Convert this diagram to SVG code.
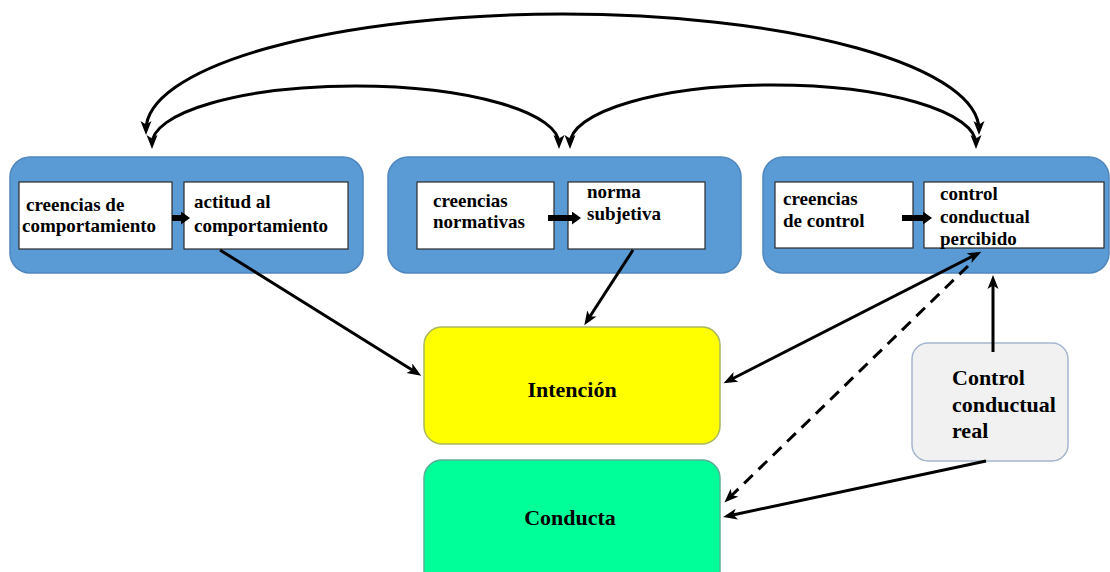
<svg xmlns="http://www.w3.org/2000/svg" width="1110" height="572" viewBox="0 0 1110 572">
<style>
.grp{fill:#5B9BD5;stroke:#4F86BE;stroke-width:1.5}
.wb{fill:#FFFFFF;stroke:#2B2B2B;stroke-width:1.2}
.t{font-family:"Liberation Serif","Times New Roman",serif;font-weight:bold;font-size:19px;fill:#000}
.tb{font-family:"Liberation Serif","Times New Roman",serif;font-weight:bold;font-size:22px;fill:#000}
.arc{fill:none;stroke:#000;stroke-width:3}
.ln{fill:none;stroke:#000;stroke-width:3}
.thick{fill:none;stroke:#000;stroke-width:6}
</style>
<defs>
<marker id="ah" markerUnits="userSpaceOnUse" markerWidth="16" markerHeight="12" refX="9" refY="5.5" orient="auto-start-reverse" viewBox="0 0 16 11">
<path d="M0,0 L14,5.5 L0,11 L3.5,5.5 z" fill="#000"/>
</marker>
<marker id="th" markerUnits="userSpaceOnUse" markerWidth="10" markerHeight="13" refX="2" refY="6.5" orient="auto" viewBox="0 0 10 13">
<path d="M0,0 L9,6.5 L0,13 z" fill="#000"/>
</marker>
</defs>
<rect width="1110" height="572" fill="#FFFFFF"/>

<g id="grupo-actitud">
<rect class="grp" x="10" y="157" width="353" height="116" rx="20"/>
<rect class="wb" x="19" y="182" width="153" height="67"/>
<rect class="wb" x="184" y="182" width="164" height="67"/>
<text class="t" x="26" y="211">creencias de</text>
<text class="t" x="22" y="232">comportamiento</text>
<text class="t" x="194" y="208">actitud al</text>
<text class="t" x="194" y="232">comportamiento</text>
<path class="thick" d="M172,218 H183" marker-end="url(#th)"/>
</g>

<g id="grupo-norma">
<rect class="grp" x="388" y="157" width="353" height="116" rx="20"/>
<rect class="wb" x="417" y="182" width="137" height="67"/>
<rect class="wb" x="568" y="182" width="137" height="67"/>
<text class="t" x="433" y="207">creencias</text>
<text class="t" x="433" y="228">normativas</text>
<text class="t" x="587" y="198">norma</text>
<text class="t" x="587" y="220">subjetiva</text>
<path class="thick" d="M548,218 H574" marker-end="url(#th)"/>
</g>

<g id="grupo-control">
<rect class="grp" x="763" y="157" width="346" height="116" rx="20"/>
<rect class="wb" x="775" y="182" width="138" height="66"/>
<rect class="wb" x="924" y="182" width="180" height="66"/>
<text class="t" x="783" y="205">creencias</text>
<text class="t" x="783" y="227">de control</text>
<text class="t" x="940" y="200">control</text>
<text class="t" x="940" y="223">conductual</text>
<text class="t" x="940" y="245">percibido</text>
<path class="thick" d="M902,218 H925" marker-end="url(#th)"/>
</g>

<g id="intencion">
<rect x="424" y="327" width="296" height="117" rx="18" fill="#FFFF00" stroke="#A9B860" stroke-width="1.5"/>
<text class="tb" x="572" y="397" text-anchor="middle">Intención</text>
</g>

<g id="conducta">
<rect x="424" y="460" width="296" height="130" rx="18" fill="#00FF99" stroke="#5DAF96" stroke-width="1.5"/>
<text class="tb" x="570" y="525" text-anchor="middle">Conducta</text>
</g>

<g id="control-real">
<rect x="912" y="343" width="156" height="118" rx="16" fill="#F1F1F1" stroke="#A4B6CE" stroke-width="1.5"/>
<text class="tb" x="952" y="385">Control</text>
<text class="tb" x="952" y="412">conductual</text>
<text class="tb" x="952" y="438">real</text>
</g>

<g id="conectores">
<path class="arc" d="M146,130 A416.5,116 0 0 1 979,130" marker-start="url(#ah)" marker-end="url(#ah)"/>
<path class="arc" d="M152,144 A203.5,58 0 0 1 559,144" marker-start="url(#ah)" marker-end="url(#ah)"/>
<path class="arc" d="M570,144 A203,59 0 0 1 976,144" marker-start="url(#ah)" marker-end="url(#ah)"/>
<path class="ln" d="M220,250 L417,373" marker-end="url(#ah)"/>
<path class="ln" d="M633,250 L587,321" marker-end="url(#ah)"/>
<path class="ln" d="M728,381 L977,254" marker-start="url(#ah)" marker-end="url(#ah)"/>
<path class="ln" d="M968,266 L728,499" stroke-dasharray="12,8" marker-end="url(#ah)"/>
<path class="ln" d="M993,352 L993,280" marker-end="url(#ah)"/>
<path class="ln" d="M986,461 L728,516" marker-end="url(#ah)"/>
</g>
</svg>
